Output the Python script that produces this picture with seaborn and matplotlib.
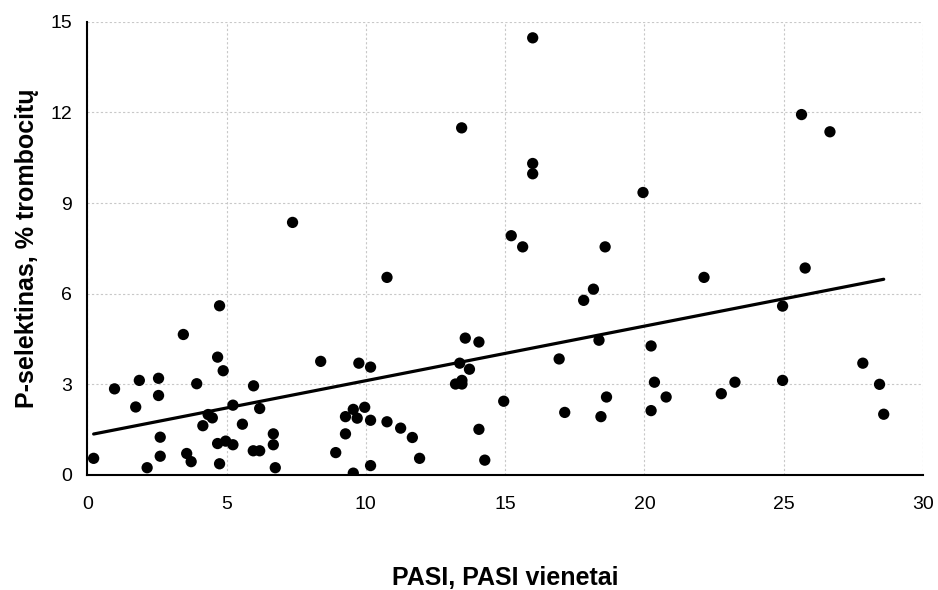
import matplotlib
matplotlib.use("Agg")
import matplotlib.pyplot as plt
import pandas as pd
import seaborn as sns

# PASI score (x) and P-selectin, % of platelets (y)
pasi = [
    0.23, 0.98, 1.74, 1.87, 2.15, 2.56, 2.56, 2.62, 2.62, 3.45,
    3.57, 3.73, 3.93, 4.15, 4.34, 4.49, 4.68, 4.75, 4.68, 4.88,
    4.75, 4.97, 5.23, 5.23, 5.57, 5.97, 6.19, 5.96, 6.19, 6.68,
    6.68, 6.75, 7.37, 8.38, 8.92, 9.27, 9.27, 9.55, 9.69, 9.96,
    9.75, 10.17, 10.17, 10.17, 9.55, 10.76, 10.76, 11.25, 11.67, 11.93,
    13.22, 13.45, 13.45, 13.37, 13.72, 13.57, 14.06, 14.06, 14.27, 14.95,
    13.44, 15.99, 15.99, 15.99, 15.22, 15.63, 16.94, 17.14, 17.82, 18.17,
    18.37, 18.44, 18.59, 18.64, 19.95, 20.24, 20.24, 20.36, 20.78, 22.14,
    22.76, 23.25, 24.96, 24.96, 25.64, 25.77, 26.66, 27.84, 28.44, 28.59,
]
p_selectin = [
    0.55, 2.85, 2.25, 3.13, 0.24, 3.20, 2.63, 1.25, 0.62, 4.65,
    0.71, 0.44, 3.02, 1.63, 2.00, 1.89, 1.04, 5.60, 3.90, 3.45,
    0.37, 1.12, 2.31, 1.00, 1.68, 2.95, 2.20, 0.80, 0.80, 1.36,
    1.00, 0.24, 8.36, 3.76, 0.74, 1.93, 1.36, 2.17, 1.88, 2.24,
    3.70, 3.57, 1.81, 0.31, 0.06, 6.54, 1.76, 1.55, 1.24, 0.55,
    3.01, 3.01, 3.13, 3.70, 3.50, 4.53, 4.40, 1.51, 0.49, 2.44,
    11.49, 14.47, 10.31, 9.97, 7.92, 7.55, 3.84, 2.07, 5.78, 6.15,
    4.46, 1.93, 7.55, 2.58, 9.35, 4.27, 2.13, 3.07, 2.58, 6.54,
    2.69, 3.07, 5.59, 3.13, 11.93, 6.85, 11.36, 3.70, 3.00, 2.01,
]
x_ticks = [0, 5, 10, 15, 20, 25, 30]
y_ticks = [0, 3, 6, 9, 12, 15]

df = pd.DataFrame({"pasi": pasi, "p_selectin": p_selectin})

sns.set_style("white")
plt.rcParams["font.family"] = ["Liberation Sans", "DejaVu Sans"]

fig = plt.figure(figsize=(9.38, 5.9), dpi=100)
ax = fig.add_axes([0.093, 0.195, 0.891, 0.768])

sns.regplot(
    data=df, x="pasi", y="p_selectin", ci=None, ax=ax,
    scatter_kws={"s": 66, "color": "black", "edgecolor": "none", "alpha": 1, "zorder": 3},
    line_kws={"color": "black", "linewidth": 2.3, "zorder": 4},
)

ax.set_xlim(0, 30)
ax.set_ylim(0, 15)
ax.set_xticks(x_ticks)
ax.set_yticks(y_ticks)
ax.grid(True, color="#c8c8c8", linestyle=(0, (2, 2)), linewidth=0.8)
ax.set_axisbelow(True)

sns.despine(ax=ax)
for side in ["left", "bottom"]:
    ax.spines[side].set_color("black")
    ax.spines[side].set_linewidth(1.5)

ax.tick_params(axis="both", direction="in", length=5, width=1.2, color="black",
               labelsize=14, labelcolor="black")
ax.tick_params(axis="x", pad=15)
ax.tick_params(axis="y", pad=11)

ax.set_xlabel("PASI, PASI vienetai", fontsize=18, fontweight="bold",
              color="black", labelpad=38)
ax.set_ylabel("P-selektinas, % trombocitų", fontsize=18, fontweight="bold",
              color="black", labelpad=8)

fig.savefig("out.png", dpi=100)
